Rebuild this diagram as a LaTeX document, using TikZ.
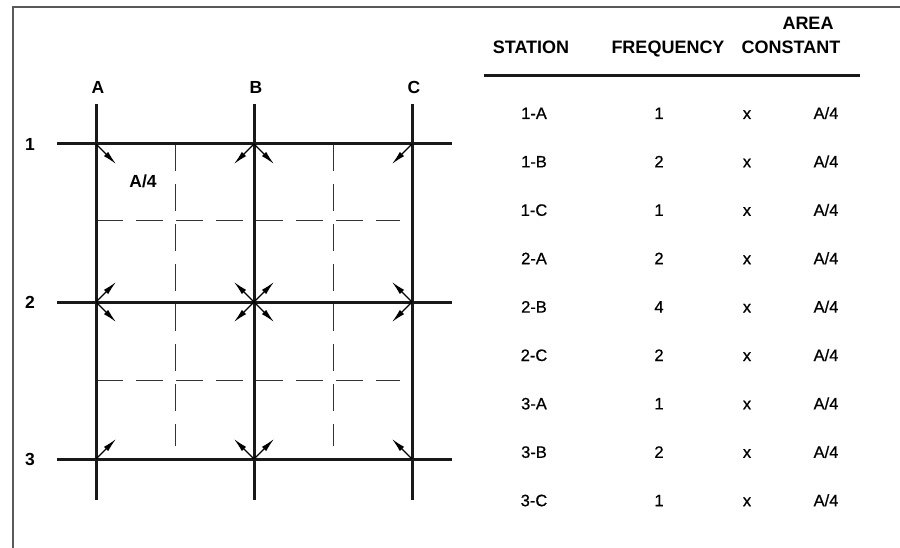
\documentclass[tikz,border=0pt]{standalone}
\usepackage{fontspec}
\setmainfont{Liberation Sans}
\newfontfamily\midfont[FakeBold=0.7]{Liberation Sans}
\usetikzlibrary{arrows.meta}

\begin{document}
\begin{tikzpicture}[
    x=1pt, y=-1pt,
    font=\fontsize{16.5}{18}\selectfont,
    heavy/.style={line width=3pt, draw=black!90},
    quarter/.style={line width=1pt, draw=black!80, dash pattern=on 27pt off 13pt},
    frameline/.style={line width=1.3pt, draw=black!65},
    station/.style={-{Latex[length=14pt,width=6pt]}, line width=1.1pt},
    gridlabel/.style={font=\fontsize{17.5}{18}\selectfont\bfseries},
    head/.style={anchor=base, font=\fontsize{18}{20}\selectfont\bfseries},
    entry/.style={anchor=base, font=\fontsize{16.5}{18}\midfont}
  ]
    \useasboundingbox (0,0) rectangle (900,548);
    \draw[frameline] (900,7) -- (13,7) -- (13,548);

    % ==========================================
    \draw[quarter] (175,144) -- (175,446);
    \draw[quarter] (333,144) -- (333,446);
    \draw[quarter] (96,221) -- (400,221);
    \draw[quarter] (96,380) -- (400,380);

    \foreach \c/\x in {A/96,B/254,C/412} {
      \node[gridlabel] (col\c) at (\x+2,87) {\c};
      \draw[heavy] (\x,104) -- (\x,500);
      \foreach \r/\y in {1/144,2/302,3/459}
        \coordinate (\c\r) at (\x,\y);
    }
    \foreach \r/\y in {1/144,2/302,3/459} {
      \node[gridlabel] (row\r) at (30,\y) {\r};
      \draw[heavy] (57,\y) -- (452,\y);
    }
    \node[gridlabel] (quarterA1) at (143,181) {A/4};

    \foreach \s/\dx/\dy in {A1/1/1, B1/-1/1, B1/1/1, C1/-1/1,
        A2/1/-1, A2/1/1, B2/1/1, B2/-1/1, B2/1/-1, B2/-1/-1, C2/-1/-1, C2/-1/1,
        A3/1/-1, B3/-1/-1, B3/1/-1, C3/-1/-1}
      \draw[station] (\s) -- ++(20*\dx,20*\dy);

    % ==========================================
    \node[head] (hdStation) at (531,53.5) {STATION};
    \node[head] (hdFreq)    at (668,53.5) {FREQUENCY};
    \node[head] (hdArea)    at (808,29.5) {AREA};
    \node[head] (hdConst)   at (791,53.5) {CONSTANT};
    \draw[heavy] (484,76) -- (860,76);

    \foreach \st/\f [count=\i from 0] in {1-A/1,1-B/2,1-C/1,2-A/2,2-B/4,2-C/2,3-A/1,3-B/2,3-C/1} {
      \node[entry] (st\i)   at (534,{119+48.4*\i}) {\st};
      \node[entry] (freq\i) at (659,{119+48.4*\i}) {\f};
      \node[entry] (times\i) at (747,{119+48.4*\i}) {x};
      \node[entry] (area\i) at (826,{119+48.4*\i}) {A/4};
    }

  \end{tikzpicture}
\end{document}
